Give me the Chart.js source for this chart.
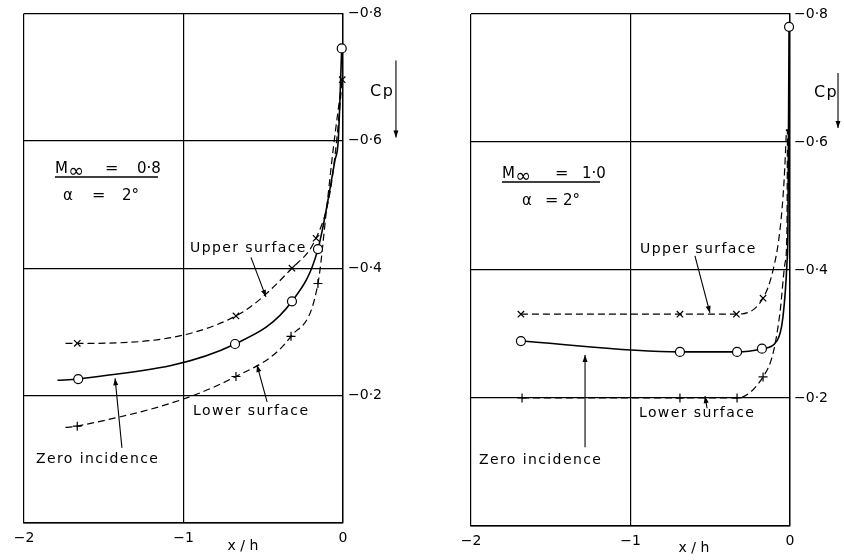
<!DOCTYPE html>
<html>
<head>
<meta charset="utf-8">
<title>Pressure distribution near the base</title>
<script src="https://cdn.jsdelivr.net/npm/chart.js@4.4.0/dist/chart.umd.min.js"></script>
<style>
    body { margin: 0; background: #fff; }
    .panel { position: absolute; top: 0; width: 422px; height: 560px; }
    #panelLeft { left: 0; }
    #panelRight { left: 422px; }
</style>
</head>
<body>
<div class="panel" id="panelLeft"><canvas id="chartLeft"></canvas></div>
<div class="panel" id="panelRight"><canvas id="chartRight"></canvas></div>
<script>
/* ========================================
   DATA (x/h, Cp)
   ======================================== */

// Axes
const xTicks = [-2, -1, 0];
const xTickLabels = ['\u22122', '\u22121', '0'];
const cpTicks = [-0.8, -0.6, -0.4, -0.2, 0];
const cpTickLabels = ['\u22120\u00b78', '\u22120\u00b76', '\u22120\u00b74', '\u22120\u00b72', ''];

// M = 0.8 : measured points
const m08UpperX = [-1.666, -0.671, -0.320, -0.169, -0.005];
const m08UpperCp = [-0.282, -0.325, -0.400, -0.447, -0.696];
const m08ZeroX = [-1.660, -0.677, -0.320, -0.157, -0.008];
const m08ZeroCp = [-0.226, -0.281, -0.348, -0.430, -0.745];
const m08LowerX = [-1.666, -0.671, -0.326, -0.157];
const m08LowerCp = [-0.152, -0.230, -0.293, -0.376];

// M = 0.8 : faired curves
const m08UpperCurveX = [-1.74, -1.666, -0.671, -0.320, -0.169, -0.082, -0.04, -0.005];
const m08UpperCurveCp = [-0.282, -0.282, -0.325, -0.400, -0.447, -0.518, -0.60, -0.696];
const m08ZeroCurveX = [-1.79, -1.660, -0.677, -0.320, -0.157, -0.05, -0.03, -0.008];
const m08ZeroCurveCp = [-0.224, -0.226, -0.281, -0.348, -0.430, -0.57, -0.60, -0.745];
const m08LowerCurveX = [-1.74, -1.666, -0.671, -0.326, -0.157, -0.10, -0.06, -0.005];
const m08LowerCurveCp = [-0.150, -0.152, -0.230, -0.293, -0.376, -0.50, -0.59, -0.696];

// M = 1.0 : measured points
const m10UpperX = [-1.687, -0.690, -0.336, -0.169];
const m10UpperCp = [-0.331, -0.331, -0.331, -0.356];
const m10ZeroX = [-1.687, -0.690, -0.332, -0.176, -0.006];
const m10ZeroCp = [-0.289, -0.272, -0.272, -0.277, -0.780];
const m10LowerX = [-1.680, -0.690, -0.332, -0.169];
const m10LowerCp = [-0.200, -0.200, -0.200, -0.233];

// M = 1.0 : faired curves
const m10UpperCurveX = [-1.687, -0.690, -0.336, -0.169, -0.106, -0.063, -0.037, -0.022];
const m10UpperCurveCp = [-0.331, -0.331, -0.331, -0.356, -0.40, -0.4625, -0.54, -0.62];
const m10ZeroCurveX = [-1.687, -0.690, -0.332, -0.176, -0.08, -0.044, -0.019, -0.013, -0.006];
const m10ZeroCurveCp = [-0.289, -0.272, -0.272, -0.277, -0.29, -0.327, -0.411, -0.4625, -0.780];
const m10LowerCurveX = [-1.680, -0.690, -0.332, -0.169, -0.106, -0.063, -0.031, -0.019, -0.016];
const m10LowerCurveCp = [-0.200, -0.200, -0.200, -0.233, -0.27, -0.333, -0.411, -0.4625, -0.62];

const FONT = "'DejaVu Sans', 'Liberation Sans', sans-serif";

// Helpers
function toPoints(xs, ys) {
    return xs.map((x, i) => ({ x: x, y: ys[i] }));
}

function curve(xs, ys, dashed) {
    return {
        data: toPoints(xs, ys),
        borderColor: '#000',
        borderWidth: dashed ? 1.2 : 1.6,
        borderDash: dashed ? [7, 4] : [],
        pointRadius: 0,
        cubicInterpolationMode: 'monotone',
        fill: false,
        clip: false
    };
}

function marks(xs, ys, style) {
    return {
        data: toPoints(xs, ys),
        showLine: false,
        pointStyle: style,
        pointRadius: 4.5,
        pointBorderWidth: 1.2,
        pointBorderColor: '#000',
        pointBackgroundColor: '#fff',
        clip: false
    };
}

// Annotations (labels, leader arrows, Cp arrow) placed in data coordinates
function drawArrow(ctx, x1, y1, x2, y2, len, half) {
    const a = Math.atan2(y2 - y1, x2 - x1);
    ctx.beginPath();
    ctx.moveTo(x1, y1);
    ctx.lineTo(x2, y2);
    ctx.stroke();
    ctx.beginPath();
    ctx.moveTo(x2, y2);
    ctx.lineTo(x2 - len * Math.cos(a) + half * Math.sin(a), y2 - len * Math.sin(a) - half * Math.cos(a));
    ctx.lineTo(x2 - len * Math.cos(a) - half * Math.sin(a), y2 - len * Math.sin(a) + half * Math.cos(a));
    ctx.closePath();
    ctx.fill();
}

function makeNotes(spec) {
    return {
        id: 'notes',
        afterDraw(chart) {
            const ctx = chart.ctx;
            const X = v => chart.scales.x.getPixelForValue(v);
            const Y = v => chart.scales.y.getPixelForValue(v);
            ctx.save();
            ctx.fillStyle = '#000';
            ctx.strokeStyle = '#000';
            ctx.textBaseline = 'alphabetic';
            spec.texts.forEach(t => {
                ctx.font = t.size + 'px ' + FONT;
                ctx.letterSpacing = (t.spacing || 0) + 'px';
                ctx.textAlign = t.align || 'left';
                ctx.fillText(t.text, X(t.x), Y(t.y));
            });
            ctx.letterSpacing = '0px';
            ctx.lineWidth = 1.5;
            spec.bars.forEach(b => {
                ctx.beginPath();
                ctx.moveTo(X(b[0]), Y(b[2]));
                ctx.lineTo(X(b[1]), Y(b[2]));
                ctx.stroke();
            });
            ctx.lineWidth = 1.1;
            spec.arrows.forEach(a => {
                drawArrow(ctx, X(a[0]), Y(a[1]), X(a[2]), Y(a[3]), 7, 2.5);
            });
            ctx.restore();
        }
    };
}

function buildPanel(canvasId, datasets, notes, layout) {
    return new Chart(document.getElementById(canvasId), {
        type: 'line',
        data: { datasets: datasets },
        options: {
            responsive: true,
            maintainAspectRatio: false,
            animation: false,
            events: [],
            layout: { padding: { left: layout.left, top: layout.top, right: 0, bottom: 0 } },
            plugins: {
                legend: { display: false },
                tooltip: { enabled: false }
            },
            scales: {
                x: {
                    type: 'linear',
                    min: -2,
                    max: 0,
                    afterBuildTicks: axis => { axis.ticks = xTicks.map(v => ({ value: v })); },
                    afterFit: axis => { axis.height = layout.xAxisHeight; },
                    grid: { color: '#000', lineWidth: 1.2, drawTicks: false },
                    border: { color: '#000', width: 1.4 },
                    ticks: {
                        color: '#000',
                        font: { family: FONT, size: 14 },
                        padding: 7,
                        maxRotation: 0,
                        callback: v => xTickLabels[xTicks.indexOf(v)]
                    }
                },
                y: {
                    type: 'linear',
                    position: 'right',
                    reverse: true,
                    min: -0.8,
                    max: 0,
                    afterBuildTicks: axis => { axis.ticks = cpTicks.map(v => ({ value: v })); },
                    afterFit: axis => { axis.width = layout.yAxisWidth; },
                    grid: { color: '#000', lineWidth: 1.2, drawTicks: false },
                    border: { color: '#000', width: 1.4 },
                    ticks: {
                        color: '#000',
                        font: { family: FONT, size: 14 },
                        padding: layout.tickPad,
                        callback: v => cpTickLabels[cpTicks.indexOf(v)]
                    }
                }
            }
        },
        plugins: [makeNotes(notes)]
    });
}

// Left panel: M = 0.8
const notesLeft = {
    texts: [
        { x: -1.806, y: -0.549, text: 'M', size: 15 },
        { x: -1.722, y: -0.543, text: '\u221e', size: 19 },
        { x: -1.492, y: -0.549, text: '=', size: 16 },
        { x: -1.292, y: -0.549, text: '0\u00b78', size: 15 },
        { x: -1.755, y: -0.507, text: '\u03b1', size: 15 },
        { x: -1.574, y: -0.507, text: '=', size: 16 },
        { x: -1.386, y: -0.507, text: '2\u00b0', size: 15 },
        { x: -0.959, y: -0.425, text: 'Upper surface', size: 14, spacing: 1.4 },
        { x: -0.940, y: -0.169, text: 'Lower surface', size: 14, spacing: 1.4 },
        { x: -1.925, y: -0.094, text: 'Zero incidence', size: 14, spacing: 1.4 },
        { x: -0.627, y: 0.042, text: 'x / h', size: 14, align: 'center' },
        { x: 0.169, y: -0.671, text: 'Cp', size: 16, spacing: 1.5 }
    ],
    bars: [[-1.806, -1.160, -0.543]],
    arrows: [
        [-0.577, -0.417, -0.483, -0.355],
        [-0.476, -0.190, -0.539, -0.248],
        [-1.386, -0.118, -1.429, -0.227],
        [0.332, -0.726, 0.332, -0.605]
    ]
};

// Right panel: M = 1.0
const notesRight = {
    texts: [
        { x: -1.806, y: -0.544, text: 'M', size: 15 },
        { x: -1.722, y: -0.538, text: '\u221e', size: 19 },
        { x: -1.473, y: -0.544, text: '=', size: 16 },
        { x: -1.304, y: -0.544, text: '1\u00b70', size: 15 },
        { x: -1.680, y: -0.502, text: '\u03b1', size: 15 },
        { x: -1.536, y: -0.502, text: '=', size: 16 },
        { x: -1.423, y: -0.502, text: '2\u00b0', size: 15 },
        { x: -0.940, y: -0.427, text: 'Upper surface', size: 14, spacing: 1.4 },
        { x: -0.947, y: -0.170, text: 'Lower surface', size: 14, spacing: 1.4 },
        { x: -1.950, y: -0.097, text: 'Zero incidence', size: 14, spacing: 1.4 },
        { x: -0.602, y: 0.041, text: 'x / h', size: 14, align: 'center' },
        { x: 0.150, y: -0.670, text: 'Cp', size: 16, spacing: 1.5 }
    ],
    bars: [[-1.806, -1.191, -0.5375]],
    arrows: [
        [-0.596, -0.422, -0.502, -0.333],
        [-0.520, -0.184, -0.533, -0.203],
        [-1.285, -0.123, -1.285, -0.267],
        [0.301, -0.708, 0.301, -0.622]
    ]
};

buildPanel('chartLeft', [
    marks(m08ZeroX, m08ZeroCp, 'circle'),
    marks(m08UpperX, m08UpperCp, 'crossRot'),
    marks(m08LowerX, m08LowerCp, 'cross'),
    curve(m08ZeroCurveX, m08ZeroCurveCp, false),
    curve(m08UpperCurveX, m08UpperCurveCp, true),
    curve(m08LowerCurveX, m08LowerCurveCp, true)
], notesLeft, { left: 24, top: 13, xAxisHeight: 37, yAxisWidth: 79, tickPad: 5 });

buildPanel('chartRight', [
    marks(m10ZeroX, m10ZeroCp, 'circle'),
    marks(m10UpperX, m10UpperCp, 'crossRot'),
    marks(m10LowerX, m10LowerCp, 'cross'),
    curve(m10ZeroCurveX, m10ZeroCurveCp, false),
    curve(m10UpperCurveX, m10UpperCurveCp, true),
    curve(m10LowerCurveX, m10LowerCurveCp, true)
], notesRight, { left: 49, top: 14, xAxisHeight: 34, yAxisWidth: 54, tickPad: 4 });
</script>
</body>
</html>
